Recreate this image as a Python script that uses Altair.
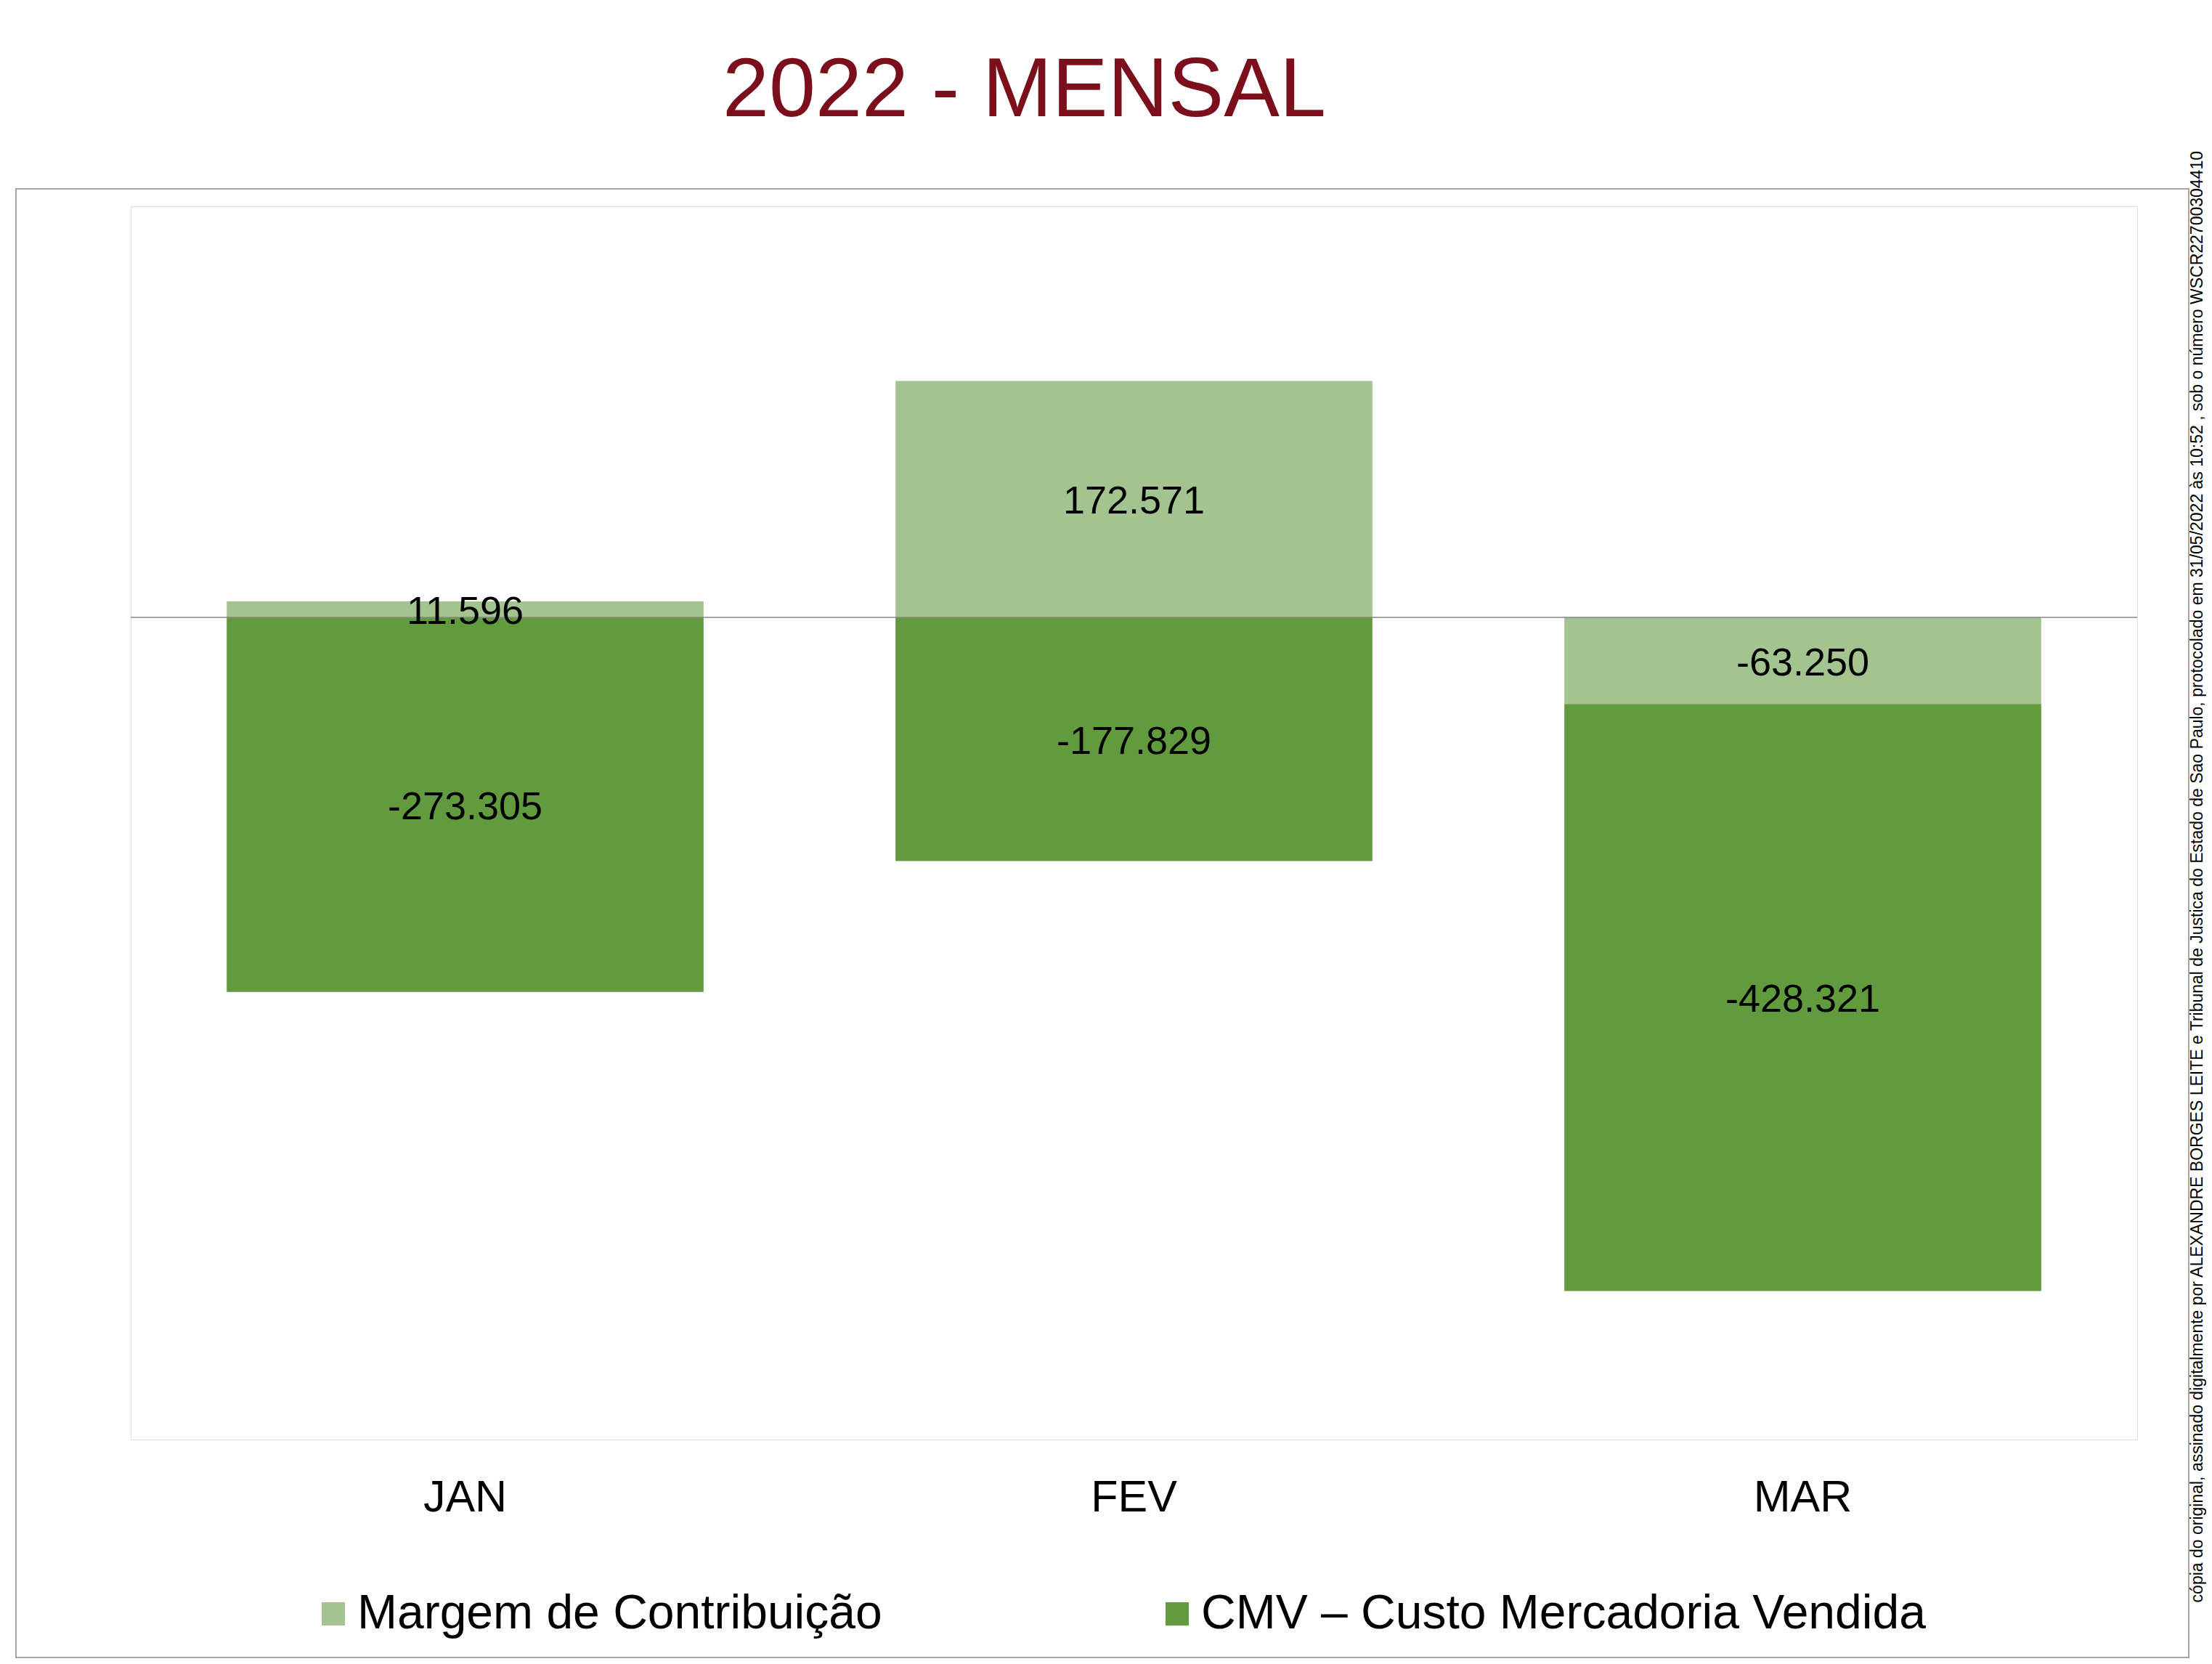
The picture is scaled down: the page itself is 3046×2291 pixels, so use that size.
import altair as alt
import pandas as pd

# ---- data ----
meses = ["JAN", "FEV", "MAR"]
series = ["Margem de Contribuição", "CMV – Custo Mercadoria Vendida"]
margem = [11596, 172571, -63250]
cmv = [-273305, -177829, -428321]
cores = ["#A3C490", "#629A3E"]

titulo = "2022 - MENSAL"
marca_lateral = ("cópia do original, assinado digitalmente por ALEXANDRE BORGES LEITE e "
                 "Tribunal de Justica do Estado de Sao Paulo, protocolado em 31/05/2022 às 10:52 , "
                 "sob o número WSCR22700304410")

rows = []
for i, m in enumerate(meses):
    rows.append({"mes": m, "serie": series[0], "valor": margem[i], "ordem": 0})
    rows.append({"mes": m, "serie": series[1], "valor": cmv[i], "ordem": 1})
df = pd.DataFrame(rows)

FONT = "Liberation Sans"
W, H = 2763, 1698

base = alt.Chart(df).transform_stack(
    stack="valor", as_=["v0", "v1"], groupby=["mes"],
    sort=[alt.SortField("ordem", order="ascending")], offset="zero"
).transform_calculate(meio="(datum.v0 + datum.v1) / 2")

xenc = alt.X("mes:N", sort=meses,
             scale=alt.Scale(paddingInner=0.287, paddingOuter=0.1435),
             axis=alt.Axis(title=None, labelAngle=0, domain=False, ticks=False, tickSize=0,
                           grid=False, labelFont=FONT, labelFontSize=61, labelColor="#000000",
                           labelPadding=50))
yscale = alt.Scale(domain=[-600000, 300000], nice=False, zero=False)

bars = base.mark_bar().encode(
    x=xenc,
    y=alt.Y("v0:Q", scale=yscale, axis=None),
    y2="v1:Q",
    color=alt.Color("serie:N", scale=alt.Scale(domain=series, range=cores),
                    legend=alt.Legend(orient="none", legendX=246, legendY=1905,
                                      direction="horizontal", title=None,
                                      symbolType="square", symbolSize=1024,
                                      symbolStrokeWidth=0, symbolOpacity=1,
                                      labelFont=FONT, labelFontSize=66, labelColor="#000000",
                                      labelOffset=0, columnPadding=373, labelLimit=3000)),
    order=alt.Order("ordem:Q"),
)

labels = base.mark_text(font=FONT, fontSize=54, color="#000000", baseline="middle", dy=4).encode(
    x=alt.X("mes:N", sort=meses),
    y=alt.Y("meio:Q", scale=yscale, axis=None),
    text=alt.Text("valor:Q", format=",d"),
)

zero = alt.Chart(pd.DataFrame({"zero": [0]})).mark_rule(color="#878787", strokeWidth=1.5).encode(
    y=alt.Y("zero:Q", scale=yscale, axis=None)
)

frame = alt.Chart(pd.DataFrame({"a": [0]})).mark_rect(
    fill="#ffffff", fillOpacity=0, stroke="#a6a6a6", strokeWidth=2
).encode(x=alt.value(-158), x2=alt.value(2834), y=alt.value(-24), y2=alt.value(1998))

side = alt.Chart(pd.DataFrame({"t": [marca_lateral]})).mark_text(
    angle=270, align="right", baseline="middle", font=FONT, fontSize=23, color="#000000"
).encode(x=alt.value(2846), y=alt.value(-76), text="t:N")

chart = alt.layer(frame, bars, zero, labels, side).properties(
    width=W, height=H,
    title=alt.TitleParams(titulo, font=FONT, fontSize=115, fontWeight="normal",
                          color="#7B0F1C", anchor="middle", dx=-151, offset=24),
    autosize=alt.AutoSizeParams(type="none"),
    padding={"left": 172, "top": 276, "right": 95, "bottom": 301},
).configure_view(
    stroke="#b4b4b4", strokeWidth=2.5, strokeDash=[2.5, 8.5]
).configure(
    locale={"number": {"decimal": ",", "thousands": ".", "grouping": [3],
                       "currency": ["R$", ""], "minus": "-"}}
)

chart.save("out.html", embed_options={"renderer": "svg", "actions": False})
